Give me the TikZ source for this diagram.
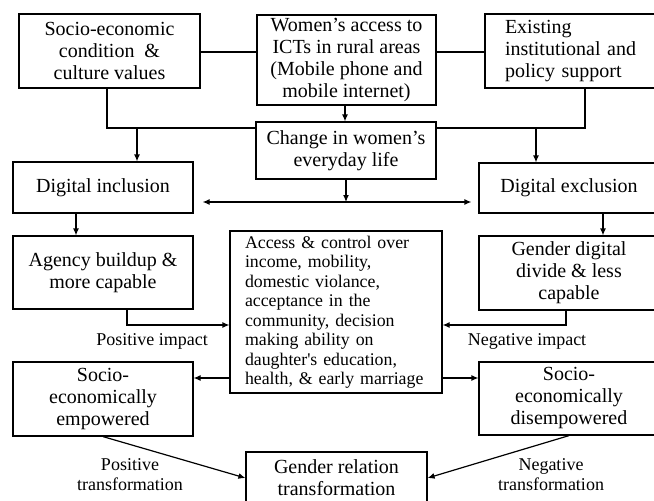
\documentclass[tikz,border=0pt]{standalone}
\usepackage{fontspec}
\setmainfont{Liberation Serif}
\usetikzlibrary{arrows.meta}

\newcommand{\bxfont}{\fontsize{20}{22}\selectfont}
\newcommand{\ctrfont}{\fontsize{17.8}{19.5}\selectfont}
\newcommand{\lblfont}{\fontsize{18}{20}\selectfont}

\begin{document}
\begin{tikzpicture}[x=1pt, y=-1pt,
		box/.style={draw, line width=1.2pt, inner sep=0pt, minimum width=180pt, align=center, font=\bxfont},
		lbl/.style={align=center, font=\lblfont},
		link/.style={line width=1.2pt},
		arr/.style={line width=1.2pt, -{Latex[length=7pt,width=6pt]}},
		arr2/.style={line width=1.2pt, {Latex[length=7pt,width=6pt]}-{Latex[length=7pt,width=6pt]}}]
		\useasboundingbox (0,0) rectangle (654,501);

		% Top row
		\node[box, minimum width=181pt, minimum height=74pt] (soc) at (109.5,51) {Socio-economic\\condition~~\&\\culture values};
		\node[box, minimum width=179pt, minimum height=90pt] (wom) at (346.5,60) {Women’s access to\\ICTs in rural areas\\(Mobile phone and\\mobile internet)};
		\node[box, minimum height=74pt, text width=140pt, align=left] (exist) at (575,51) {Existing\\institutional and\\policy support};

		% Change box and the line behind it
		\node[box, minimum height=57pt] (chg) at (346,150.5) {Change in women’s\\everyday life};
		\coordinate (bus) at (346,128);
		\coordinate (mid) at (343,202);

		% Left column
		\node[box, minimum height=51pt] (dinc) at (103,187.5) {Digital inclusion};
		\node[box, minimum height=73pt] (agency) at (103,272.5) {Agency buildup \&\\more capable};
		\node[box, minimum height=74pt] (emp) at (103,399) {Socio-\\economically\\empowered};

		% Right column
		\node[box, minimum height=50pt] (dexc) at (569,188) {Digital exclusion};
		\node[box, minimum height=74pt] (gdd) at (569,273) {Gender digital\\divide \& less\\capable};
		\node[box, minimum height=73pt] (dis) at (569,398.5) {Socio-\\economically\\disempowered};

		% Middle
		\node[box, minimum width=212pt, minimum height=162pt, text width=182pt, align=left, font=\ctrfont] (ctr) at (336,312) {Access \& control over\\income, mobility,\\domestic violance,\\acceptance in the\\community, decision\\making ability on\\daughter\textquotesingle s education,\\health, \& early marriage};
		\node[box, minimum width=181pt, minimum height=52pt] (grt) at (336.5,478) {Gender relation\\transformation};

		% Labels
		\node[lbl] (pimp) at (152,341) {Positive impact};
		\node[lbl] (nimp) at (527,341) {Negative impact};
		\node[lbl] (ptr) at (130,475) {Positive\\transformation};
		\node[lbl] (ntr) at (551,475) {Negative\\transformation};

		% Connecting lines
		\draw[link] (soc.east |- 0,52) -- (wom.west |- 0,52);
		\draw[link] (wom.east |- 0,52) -- (exist.west |- 0,52);
		\draw[arr] ([xshift=-1.5pt]wom.south) -- ([xshift=-1pt]chg.north);
		\draw[link] ([xshift=-2.5pt]soc.south) |- (bus -| chg.west);
		\draw[link] ([xshift=10pt]exist.south) |- (bus -| chg.east);
		\draw[arr] ([xshift=34pt]dinc.north |- bus) -- ([xshift=34pt]dinc.north);
		\draw[arr] ([xshift=-33pt]dexc.north |- bus) -- ([xshift=-33pt]dexc.north);
		\draw[arr] (chg.south) -- (chg.south |- mid);
		\draw[arr2] ([xshift=9pt]dinc.east |- mid) -- ([xshift=-7pt]dexc.west |- mid);
		\draw[arr] ([xshift=-27pt]dinc.south) -- ([xshift=-27pt]agency.north);
		\draw[arr] ([xshift=34pt]dexc.south) -- ([xshift=34pt]gdd.north);
		\draw[arr] ([xshift=24pt]agency.south) |- ([yshift=-13pt]ctr.west);
		\draw[arr] ([xshift=-3pt]gdd.south) |- ([yshift=-13pt]ctr.east);
		\draw[arr] ([yshift=-66pt]ctr.west) -- ([yshift=-66pt]ctr.west -| emp.east);
		\draw[arr] ([yshift=-66pt]ctr.east) -- ([yshift=-66pt]ctr.east -| dis.west);
		\draw[arr] (emp.south) -- (grt.west);
		\draw[arr] (dis.south) -- (grt.east);
\end{tikzpicture}
\end{document}
